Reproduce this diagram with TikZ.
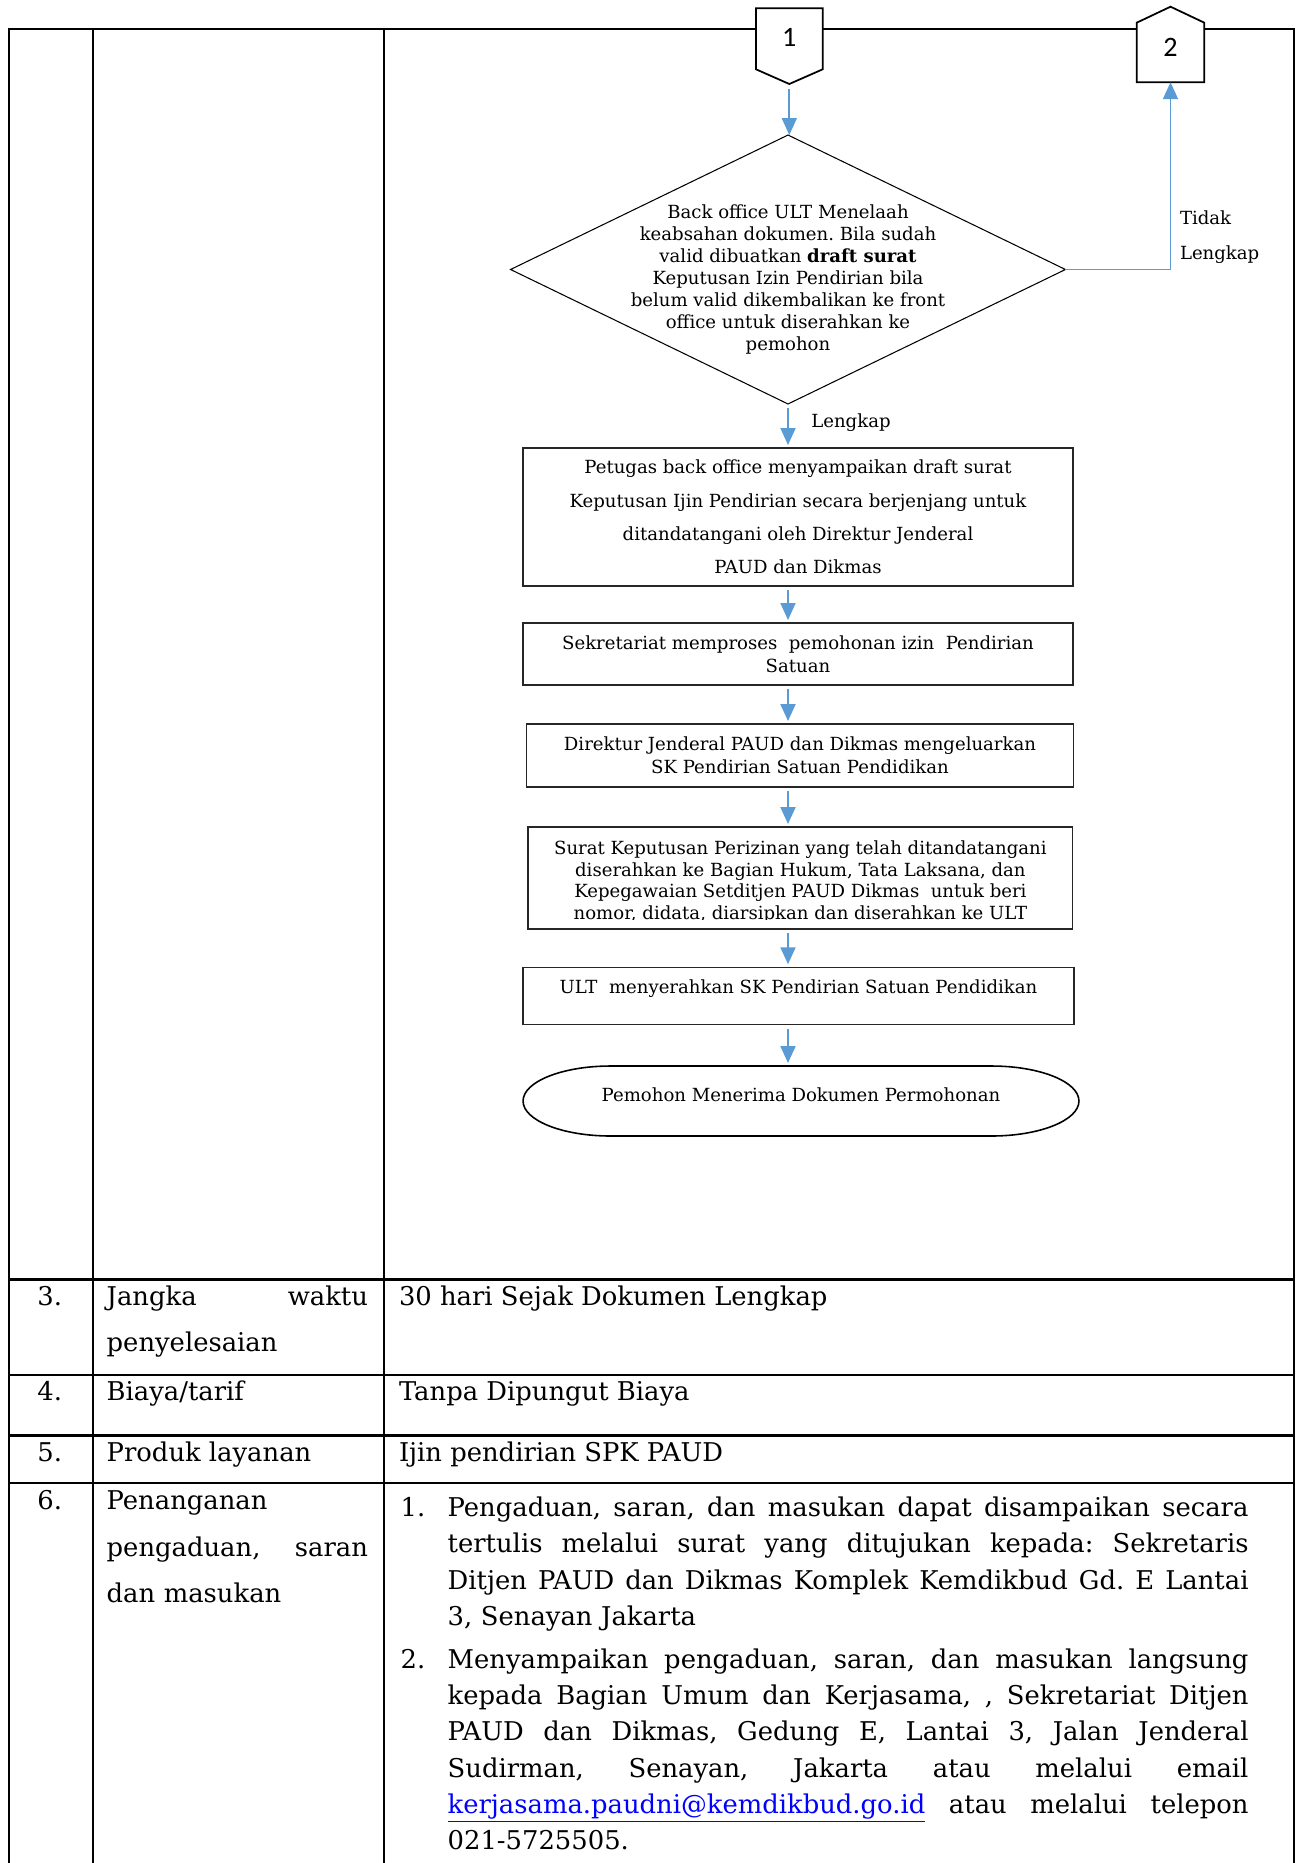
\documentclass[tikz,border=0pt]{standalone}
\usepackage{fontspec}
\setmainfont{DejaVu Serif}
\newfontfamily\angka{Carlito}
\usetikzlibrary{arrows.meta,%
                shapes.geometric}
\definecolor{alurbiru}{RGB}{91,155,213}
\definecolor{tautan}{RGB}{0,0,255}
\newcommand{\tabelfont}[1]{\fontsize{14.7}{#1}\selectfont}
\newcommand{\alurfont}[1]{\fontsize{10.3}{#1}\selectfont}
\frenchspacing

\begin{document}
\begin{tikzpicture}[x=0.02cm, y=-0.02cm]
  \tikzstyle{every node} = [inner sep = 0pt,
			    outer sep = 0pt]
\tikzstyle{garis} = [line width = 1.5pt, line cap = rect]
\tikzstyle{proses} = [draw = black!85, line width = 0.7pt, align = center]
\tikzstyle{isi} = [anchor = base west, font = \tabelfont{20}]
\tikzset{alur/.style = {draw = alurbiru, line width = 1.1pt,
                        -{Triangle[length = 0.34cm, width = 0.3cm]}}}
\tikzset{sela/.style = {shorten <= 0.08cm, shorten >= 0.06cm}}
\tikzset{penghubung/.style = {draw, fill = white, line width = 1pt}}
\useasboundingbox (0,0) rectangle (1299,1863);

% tabel
\draw[garis] (9,1863) -- (9,29) -- (1294,29) -- (1294,1863);
\draw[garis] (93,29) -- (93,1863);
\draw[garis] (384,29) -- (384,1863);
\foreach \y in {1279.5, 1375, 1435.5, 1483}
  \draw[garis] (9,\y) -- (1294,\y);

% penghubung halaman
\draw[penghubung] (756,8.3) -- (822.7,8.3) -- (822.7,69.3) -- (789.3,84) -- (756,69.3) -- cycle;
\node[font = \angka\fontsize{16}{17}\selectfont, minimum width = 1.33cm, minimum height = 1.51cm,
      text height = 0.25cm, text depth = 0.25cm] (h1) at (789.3,46.2) {1};
\draw[penghubung] (1136.7,82.3) -- (1136.7,22.7) -- (1170.5,6.7) -- (1204.3,22.7) -- (1204.3,82.3) -- cycle;
\node[font = \angka\fontsize{16}{17}\selectfont, minimum width = 1.33cm, minimum height = 1.51cm,
      text height = 0.5cm, text depth = 0.04cm] (h2) at (1170.5,44.5) {2};

\node[diamond, draw, line width = 0.6pt, minimum width = 11.1cm, minimum height = 5.38cm] (telaah) at (788,269.5) {};
\node[align = center, font = \alurfont{12.5}] (telaahteks) at (788,279.4)
  {Back office ULT Menelaah\\ keabsahan dokumen. Bila sudah\\ valid dibuatkan \textbf{draft surat}\\
   Keputusan Izin Pendirian bila\\ belum valid dikembalikan ke front\\ office untuk diserahkan ke\\ pemohon};
\node[align = left, anchor = base west, font = \alurfont{20}] (tidak) at (1180,259.3) {Tidak\\Lengkap};
\node[anchor = base, font = \alurfont{12}] (lengkap) at (851,427) {Lengkap};

\node[proses, minimum width = 11cm, minimum height = 2.76cm, font = \alurfont{18.9}] (b1) at (798,517)
  {Petugas back office menyampaikan draft surat\\ Keputusan Ijin Pendirian secara berjenjang untuk\\
   ditandatangani oleh Direktur Jenderal\\ PAUD dan Dikmas};
\node[proses, minimum width = 11cm, minimum height = 1.24cm, font = \alurfont{13}] (b2) at (798,654)
  {Sekretariat memproses\ \ pemohonan izin\ \ Pendirian\\ Satuan};
\node[proses, minimum width = 10.93cm, minimum height = 1.26cm, font = \alurfont{13}] (b3) at (800,755.5)
  {Direktur Jenderal PAUD dan Dikmas mengeluarkan\\ SK Pendirian Satuan Pendidikan};
\node[proses, minimum width = 10.9cm, minimum height = 2.04cm] (b4) at (800.4,878) {};
\begin{scope}
\clip (b4.north west) rectangle ([yshift = 0.2cm]b4.south east);
\node[align = center, font = \alurfont{12.3}] (b4teks) at (800.4,882)
  {Surat Keputusan Perizinan yang telah ditandatangani\\ diserahkan ke Bagian Hukum, Tata Laksana, dan\\
   Kepegawaian Setditjen PAUD Dikmas\ \ untuk beri\\ nomor, didata, diarsipkan dan diserahkan ke ULT};
\end{scope}
\node[proses, minimum width = 11.02cm, minimum height = 1.15cm] (b5) at (798.5,996) {};
\node[font = \alurfont{12}] (b5teks) at (798.5,989) {ULT\ \ menyerahkan SK Pendirian Satuan Pendidikan};
\node[minimum width = 11.12cm, minimum height = 1.4cm, text height = 0.2cm, text depth = 0.2cm,
      font = \alurfont{12}] (terima) at (801,1101) {Pemohon Menerima Dokumen Permohonan};
\draw[line width = 0.9pt] ([xshift = 1.75cm]terima.north west) -- ([xshift = -1.75cm]terima.north east)
  arc[start angle = 90, end angle = -90, x radius = 1.75cm, y radius = 0.7cm]
  -- ([xshift = 1.75cm]terima.south west)
  arc[start angle = 270, end angle = 90, x radius = 1.75cm, y radius = 0.7cm] -- cycle;

\draw[alur, shorten <= 0.1cm] (h1.south) -- (h1.south |- telaah.north);
\draw[alur] (telaah.east) -| (h2.south);
\draw[alur, sela] (telaah.south) -- (telaah.south |- b1.north);
\draw[alur, sela] (b1.south -| telaah.south) -- (b2.north -| telaah.south);
\draw[alur, sela] (b2.south -| telaah.south) -- (b3.north -| telaah.south);
\draw[alur, sela] (b3.south -| telaah.south) -- (b4.north -| telaah.south);
\draw[alur, sela] (b4.south -| telaah.south) -- (b5.north -| telaah.south);
\draw[alur, sela] (b5.south -| telaah.south) -- (terima.north -| telaah.south);

% baris 3 sampai 6
\node[isi] (n3) at (37.5,1305.7) {3.};
\node[isi, text width = 5.226cm, font = \tabelfont{26.1}] (k3) at (106.7,1305.7)
  {\makebox[5.226cm][s]{Jangka\hfill waktu}\\ penyelesaian};
\node[isi] (v3) at (399,1305.7) {30 hari Sejak Dokumen Lengkap};
\node[isi] (n4) at (37.5,1400) {4.};
\node[isi] (k4) at (106.7,1400) {Biaya/tarif};
\node[isi] (v4) at (399,1400) {Tanpa Dipungut Biaya};
\node[isi] (n5) at (37.5,1461.7) {5.};
\node[isi] (k5) at (106.7,1461.7) {Produk layanan};
\node[isi] (v5) at (399,1461.7) {Ijin pendirian SPK PAUD};
\node[isi] (n6) at (37.5,1509.3) {6.};
\node[isi, text width = 5.226cm, font = \tabelfont{26.6}] (k6) at (106.7,1509.3)
  {Penanganan\\ \makebox[5.226cm][s]{pengaduan,\hfill saran}\\ dan masukan};
\node[isi] (l1) at (400.7,1516) {1.};
\node[isi, text width = 16.02cm, font = \tabelfont{20.8}] (v6a) at (447.7,1516)
  {\makebox[16.02cm][s]{Pengaduan, \hfill saran, \hfill dan \hfill masukan \hfill dapat \hfill disampaikan \hfill secara}\\
   \makebox[16.02cm][s]{tertulis \hfill melalui \hfill surat \hfill yang \hfill ditujukan \hfill kepada: \hfill Sekretaris}\\
   \makebox[16.02cm][s]{Ditjen \hfill PAUD \hfill dan \hfill Dikmas \hfill Komplek \hfill Kemdikbud \hfill Gd. \hfill E \hfill Lantai}\\
   3, Senayan Jakarta};
\node[isi] (l2) at (400.7,1668.7) {2.};
\node[isi, text width = 16.02cm, font = \tabelfont{20.55}] (v6b) at (447.7,1668.7)
  {\makebox[16.02cm][s]{Menyampaikan \hfill pengaduan, \hfill saran, \hfill dan \hfill masukan \hfill langsung}\\
   \makebox[16.02cm][s]{kepada \hfill Bagian \hfill Umum \hfill dan \hfill Kerjasama, \hfill , \hfill Sekretariat \hfill Ditjen}\\
   \makebox[16.02cm][s]{PAUD \hfill dan \hfill Dikmas, \hfill Gedung \hfill E, \hfill Lantai \hfill 3, \hfill Jalan \hfill Jenderal}\\
   \makebox[16.02cm][s]{Sudirman, \hfill Senayan, \hfill Jakarta \hfill atau \hfill melalui \hfill email}\\
   \makebox[16.02cm][s]{\textcolor{tautan}{\underline{kerjasama.paudni@kemdikbud.go.id}} \hfill atau \hfill melalui \hfill telepon}\\
   021-5725505.};

\end{tikzpicture}
\end{document}
